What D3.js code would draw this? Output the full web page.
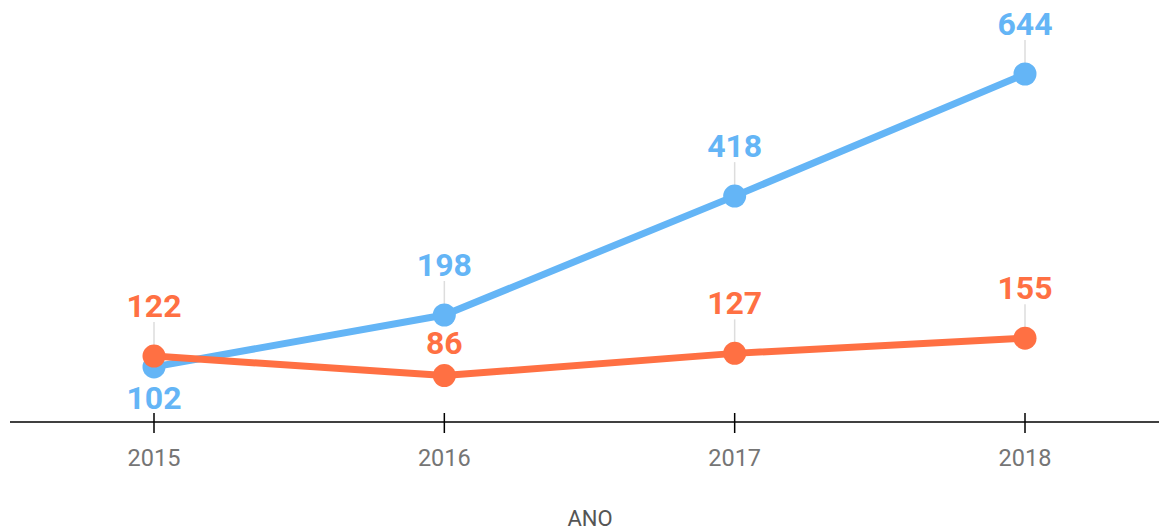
<!DOCTYPE html>
<html><head><meta charset="utf-8">
<script src="https://cdn.jsdelivr.net/npm/d3@7"></script>
<style>
html,body{margin:0;padding:0;background:#fff;}
svg{display:block;font-family:Roboto,"Noto Sans",sans-serif;}
</style></head>
<body><svg id="c" width="1159" height="532"></svg>
<script>
const years = ["2015","2016","2017","2018"];
const blueValues = [102,198,418,644];
const orangeValues = [122,86,127,155];
const blueLabelSide = ["below","above","above","above"];
const orangeLabelSide = ["above","near","above","above"];
const xTitle = "ANO";

const svg = d3.select("#c");
const W = 1159, H = 532;
const axisY = 422;
const x = d3.scalePoint().domain(years).range([154,1025]);
const y = d3.scaleLinear().domain([0,644]).range([axisY,74]);

// axis
const ax = svg.append("g").attr("transform",`translate(0,${axisY})`);
ax.append("line").attr("x1",10).attr("x2",W).attr("stroke","#000").attr("stroke-width",1.5);
years.forEach(yr=>{
  ax.append("line").attr("x1",x(yr)).attr("x2",x(yr)).attr("y1",-9).attr("y2",11)
    .attr("stroke","#000").attr("stroke-width",1.5);
  ax.append("text").attr("x",x(yr)).attr("y",44).attr("text-anchor","middle")
    .attr("font-size",23.5).attr("fill","#757575").text(yr);
});
svg.append("text").attr("x",590).attr("y",526).attr("text-anchor","middle")
  .attr("font-size",22).attr("fill","#555").text(xTitle);

const series = [
  {vals:blueValues, color:"#64b5f6", sides:blueLabelSide},
  {vals:orangeValues, color:"#ff7043", sides:orangeLabelSide}
];
const line = d3.line().x((d,i)=>x(years[i])).y(d=>y(d));

// leader lines first
series.forEach(s=>{
  s.vals.forEach((v,i)=>{
    if(s.sides[i]==="above"){
      svg.append("line").attr("x1",x(years[i])).attr("x2",x(years[i]))
        .attr("y1",y(v)-34).attr("y2",y(v)).attr("stroke","#ddd").attr("stroke-width",1.5);
    }
  });
});
series.forEach(s=>{
  svg.append("path").datum(s.vals).attr("d",line).attr("fill","none")
    .attr("stroke",s.color).attr("stroke-width",7).attr("stroke-linejoin","round");
  svg.selectAll(null).data(s.vals).enter().append("circle")
    .attr("cx",(d,i)=>x(years[i])).attr("cy",d=>y(d)).attr("r",11.5).attr("fill",s.color);
});
series.forEach(s=>{
  s.vals.forEach((v,i)=>{
    const side = s.sides[i];
    const dy = side==="below" ? 42 : side==="near" ? -22 : -39;
    svg.append("text").attr("x",x(years[i])).attr("y",y(v)+dy).attr("text-anchor","middle")
      .attr("font-size",32).attr("font-weight","bold").attr("fill",s.color).text(v);
  });
});
</script></body></html>
